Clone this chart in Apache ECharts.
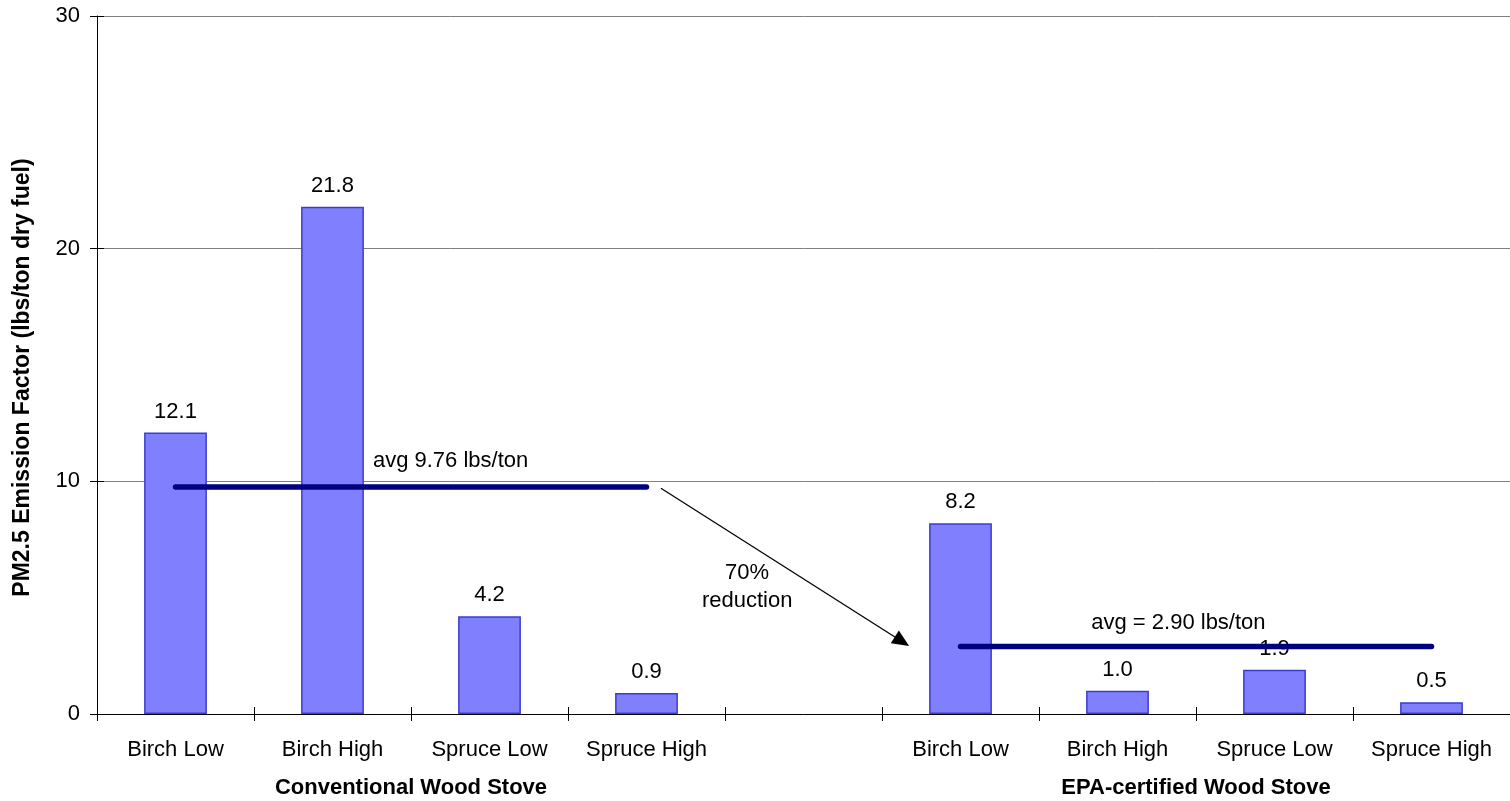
<!DOCTYPE html>
<html>
<head>
<meta charset="utf-8">
<script src="https://cdn.jsdelivr.net/npm/echarts@6/dist/echarts.min.js"></script>
<style>
  html, body { margin: 0; padding: 0; background: #ffffff; }
  #chart { width: 1510px; height: 801px; }
</style>
</head>
<body>
<div id="chart"></div>
<script>
// Fuel / burn-rate categories, with an empty slot separating the two stove types
const categories = ['Birch Low', 'Birch High', 'Spruce Low', 'Spruce High', '',
                    'Birch Low', 'Birch High', 'Spruce Low', 'Spruce High'];
// PM2.5 emission factor, lbs per ton of dry fuel
const emissionFactors = [12.1, 21.8, 4.2, 0.9, null, 8.2, 1.0, 1.9, 0.5];
// Stove groups and the category slots they cover
const stoveGroups = ['Conventional Wood Stove', 'EPA-certified Wood Stove'];
const groupMembers = [[0, 1, 2, 3], [5, 6, 7, 8]];
const groupAverages = [9.76, 2.90];
const reductionPercent = 70;
// Value-axis ticks
const yTicks = [0, 10, 20, 30];

const FONT = '"Liberation Sans", Arial, Helvetica, sans-serif';
const FS = 22;

// Average line: one value per slot, null outside each group so the two segments stay apart
const avgLine = categories.map(() => null);
groupMembers.forEach((members, g) => members.forEach(i => { avgLine[i] = groupAverages[g]; }));

const yMin = yTicks[0];
const yMax = yTicks[yTicks.length - 1];
const yStep = yTicks[1] - yTicks[0];

const chart = echarts.init(document.getElementById('chart'), null, { renderer: 'canvas' });

const option = {
  animation: false,
  backgroundColor: '#ffffff',
  textStyle: { fontFamily: FONT },
  grid: { left: 97, top: 16, width: 1419, height: 698, containLabel: false },
  xAxis: [
    {
      type: 'category',
      position: 'bottom',
      data: categories,
      axisLine: { show: true, onZero: false, lineStyle: { color: '#000000', width: 1 } },
      axisTick: { show: true, interval: 0, length: 7, lineStyle: { color: '#000000' } },
      axisLabel: { interval: 0, color: '#000000', fontSize: FS, fontFamily: FONT, margin: 25 },
      splitLine: { show: false }
    },
    {
      // inner half of the crossing tick marks
      type: 'category',
      position: 'bottom',
      data: categories,
      axisLine: { show: false, onZero: false },
      axisTick: { show: true, inside: true, interval: 0, length: 7, lineStyle: { color: '#000000' } },
      axisLabel: { show: false },
      splitLine: { show: false }
    },
    {
      // slot-index scale used to place annotations
      type: 'value',
      position: 'bottom',
      min: -0.5,
      max: categories.length - 0.5,
      axisLine: { onZero: false },
      show: false
    }
  ],
  yAxis: [
    {
      type: 'value',
      position: 'left',
      min: yMin,
      max: yMax,
      interval: yStep,
      axisLine: { show: true, onZero: false, lineStyle: { color: '#000000', width: 1 } },
      axisTick: { show: true, length: 7, lineStyle: { color: '#000000' } },
      axisLabel: { color: '#000000', fontSize: FS, fontFamily: FONT, margin: 17 },
      splitLine: { show: true, lineStyle: { color: '#808080', width: 1 } },
      name: 'PM2.5 Emission Factor (lbs/ton dry fuel)',
      nameLocation: 'middle',
      nameGap: 63,
      nameTextStyle: { color: '#000000', fontWeight: 'bold', fontSize: 23, fontFamily: FONT, padding: [0, 25, 0, 0] }
    },
    {
      type: 'value',
      position: 'left',
      min: yMin,
      max: yMax,
      interval: yStep,
      axisLine: { show: false, onZero: false },
      axisTick: { show: true, inside: true, length: 7, lineStyle: { color: '#000000' } },
      axisLabel: { show: false },
      splitLine: { show: false }
    }
  ],
  series: [
    {
      name: 'Emission factor',
      type: 'bar',
      data: emissionFactors,
      barWidth: '40%',
      z: 2,
      itemStyle: { color: '#8080FF', borderColor: '#3c3ccf', borderWidth: 1.5 },
      label: {
        show: true,
        position: 'top',
        distance: 10,
        color: '#000000',
        fontSize: FS,
        fontFamily: FONT,
        formatter: p => (p.value == null ? '' : Number(p.value).toFixed(1))
      }
    },
    {
      name: 'Group average',
      type: 'line',
      data: avgLine,
      connectNulls: false,
      symbol: 'none',
      silent: true,
      z: 6,
      lineStyle: { color: '#000080', width: 5.5, cap: 'round' }
    }
  ]
};

chart.setOption(option);

// Annotations placed in (slot index, value) space and converted through the axes
const px = v => chart.convertToPixel({ xAxisIndex: 2 }, v);
const py = v => chart.convertToPixel({ yAxisIndex: 0 }, v);

function textEl(text, x, y, opts) {
  return {
    type: 'text',
    x: x,
    y: y,
    z: 10,
    silent: true,
    style: Object.assign({
      text: text,
      fill: '#000000',
      font: FS + 'px ' + FONT,
      align: 'center',
      verticalAlign: 'middle'
    }, opts || {})
  };
}

const graphics = [];

// average captions
graphics.push(textEl('avg ' + groupAverages[0].toFixed(2) + ' lbs/ton', px(1.752), py(10.87)));
graphics.push(textEl('avg = ' + groupAverages[1].toFixed(2) + ' lbs/ton', px(6.388), py(3.9)));

// reduction caption
graphics.push(textEl(reductionPercent + '%\nreduction', px(3.641), py(5.48), { lineHeight: 28 }));

// arrow from the conventional average to the certified average
const a0 = [px(3.092), py(9.70)];
const a1 = [px(4.673), py(2.92)];
const dx = a1[0] - a0[0], dy = a1[1] - a0[1];
const len = Math.sqrt(dx * dx + dy * dy);
const ux = dx / len, uy = dy / len;
const headL = 17, headW = 7.5;
const base = [a1[0] - ux * headL, a1[1] - uy * headL];
graphics.push({
  type: 'line', z: 10, silent: true,
  shape: { x1: a0[0], y1: a0[1], x2: base[0] + ux * 2, y2: base[1] + uy * 2 },
  style: { stroke: '#000000', lineWidth: 1.3 }
});
graphics.push({
  type: 'polygon', z: 10, silent: true,
  shape: { points: [a1, [base[0] - uy * headW, base[1] + ux * headW], [base[0] + uy * headW, base[1] - ux * headW]] },
  style: { fill: '#000000' }
});

// group captions under the category labels
const axisBottom = py(yMin);
stoveGroups.forEach((name, g) => {
  const members = groupMembers[g];
  const mid = (members[0] + members[members.length - 1]) / 2;
  graphics.push(textEl(name, px(mid), axisBottom + 74, { font: 'bold ' + FS + 'px ' + FONT }));
});

chart.setOption({ graphic: graphics });
</script>
</body>
</html>
